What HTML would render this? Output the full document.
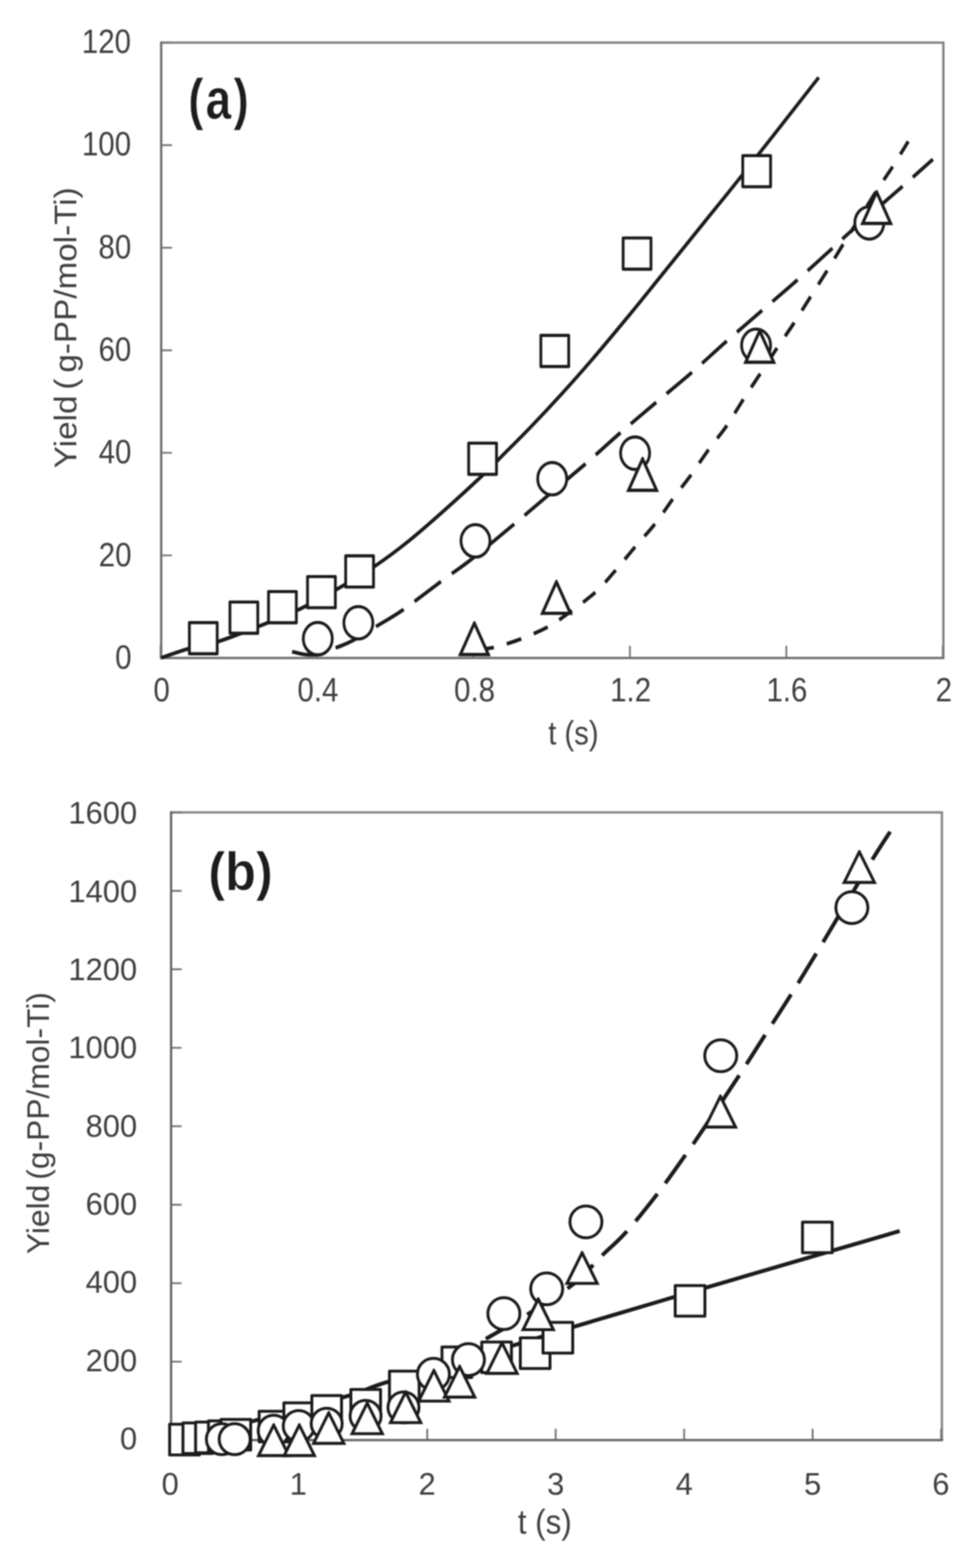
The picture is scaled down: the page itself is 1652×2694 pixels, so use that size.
<!DOCTYPE html>
<html lang="en">
<head>
<meta charset="utf-8">
<title>Yield versus time</title>
<style>
html,body{margin:0;padding:0;background:#fff;}
body{width:1652px;height:2694px;overflow:hidden;}
svg{display:block;font-family:"Liberation Sans",sans-serif;filter:blur(1px);}
</style>
</head>
<body>
<svg width="1652" height="2694" viewBox="0 0 1652 2694">
<rect width="1652" height="2694" fill="#fff"/>
<g id="panel-a">
<path d="M276.8 73.2H1620V1130.5" fill="none" stroke="#828282" stroke-width="4"/>
<path d="M276.8 1130.5h18.5M276.8 954.28h18.5M276.8 778.07h18.5M276.8 601.85h18.5M276.8 425.63h18.5M276.8 249.42h18.5M276.8 73.2h18.5M275.8 1130.5v-21M544.44 1130.5v-21M813.08 1130.5v-21M1081.72 1130.5v-21M1350.36 1130.5v-21M1619 1130.5v-21" fill="none" stroke="#787878" stroke-width="3.1"/>
<path d="M276.8 71.2V1130.5H1622" fill="none" stroke="#6e6e6e" stroke-width="4" stroke-linejoin="miter"/>
<text transform="matrix(0.8800 0 0 1 197.81 1149.2)" font-size="57.5" fill="#3f3f3f">0</text>
<text transform="matrix(0.8800 0 0 1 169.56 972.78)" font-size="57.5" fill="#3f3f3f">20</text>
<text transform="matrix(0.8800 0 0 1 169.4 796.37)" font-size="57.5" fill="#3f3f3f">40</text>
<text transform="matrix(0.8800 0 0 1 169.23 619.95)" font-size="57.5" fill="#3f3f3f">60</text>
<text transform="matrix(0.8800 0 0 1 169.06 443.53)" font-size="57.5" fill="#3f3f3f">80</text>
<text transform="matrix(0.8800 0 0 1 140.69 267.12)" font-size="57.5" fill="#3f3f3f">100</text>
<text transform="matrix(0.8800 0 0 1 140.52 90.7)" font-size="57.5" fill="#3f3f3f">120</text>
<text transform="matrix(0.8800 0 0 1 263.5 1205)" font-size="57.5" fill="#3f3f3f">0</text>
<text transform="matrix(0.8800 0 0 1 510.76 1205)" font-size="57.5" fill="#3f3f3f">0.4</text>
<text transform="matrix(0.8800 0 0 1 779.78 1205)" font-size="57.5" fill="#3f3f3f">0.8</text>
<text transform="matrix(0.8800 0 0 1 1047.72 1205)" font-size="57.5" fill="#3f3f3f">1.2</text>
<text transform="matrix(0.8800 0 0 1 1316.17 1205)" font-size="57.5" fill="#3f3f3f">1.6</text>
<text transform="matrix(0.8800 0 0 1 1606.76 1205)" font-size="57.5" fill="#3f3f3f">2</text>
<text transform="matrix(0.8835 0 0 1 941.45 1279.21)" font-size="56.84" fill="#3f3f3f">t (s)</text>
<text transform="matrix(0 -1.0570 1 0 130.6 804.49)" font-size="54.07" word-spacing="-5.41" fill="#3f3f3f">Yield ( g-PP/mol-Ti)</text>
<text transform="matrix(0.8019 0 0 1 323.37 203.66)" font-size="98.02" font-weight="bold" letter-spacing="4.78" fill="#1d1b1b" stroke="#fff" stroke-width="0.9">(a)</text>
<g id="series-a" transform="matrix(1 0 0 1.12 0 0)">
<path d="M276.8 1009.2C284.58 1006.87 307.27 999.4 323.5 995.27C339.73 991.13 354.07 990.13 374.2 984.37C394.33 978.62 421.58 968.75 444.3 960.71C467.02 952.68 488.27 945.57 510.5 936.16C532.73 926.76 555.58 915.52 577.7 904.29C599.82 893.05 622.82 880.92 643.2 868.75C663.58 856.58 680.53 845.16 700 831.25C719.47 817.34 738.17 802.6 760 785.27C781.83 767.93 814.33 741.22 831 727.23C847.67 713.24 846.5 713.47 860 701.34C873.5 689.21 894.53 670.68 912 654.46C929.47 638.24 947.43 621.07 964.8 604.02C982.17 586.96 996.7 572.46 1016.2 552.14C1035.7 531.83 1062.17 503.41 1081.8 482.14C1101.43 460.88 1112.48 448.36 1134 424.55C1155.52 400.74 1187.6 365.13 1210.9 339.29C1234.2 313.44 1241.28 306.22 1273.8 269.46C1306.32 232.71 1383.97 143.87 1406 118.75" fill="none" stroke="#1c1a1a" stroke-width="5.7" stroke-linecap="butt" stroke-linejoin="round"/>
<path d="M501.6 999.64C505.45 1000.39 516.97 1003.53 524.7 1004.11C532.43 1004.69 539.28 1004.85 548 1003.12C556.72 1001.4 567.67 997.04 577 993.75C586.33 990.46 592.3 988.96 604 983.39C615.7 977.83 632.28 968.48 647.2 960.36C662.12 952.23 674.7 946.34 693.5 934.64C712.3 922.95 740.65 902.98 760 890.18C779.35 877.38 788.92 872.35 809.6 857.86C830.28 843.36 862.58 819.23 884.1 803.21C905.62 787.2 918.3 777.2 938.7 761.79C959.1 746.37 985.28 727.11 1006.5 710.71C1027.72 694.32 1045.87 679.02 1066 663.39C1086.13 647.77 1106.88 632.37 1127.3 616.96C1147.72 601.56 1168.38 586.61 1188.5 570.98C1208.62 555.36 1227.88 539.06 1248 523.21C1268.12 507.37 1288.8 491.67 1309.2 475.89C1329.6 460.12 1350.55 444.26 1370.4 428.57C1390.25 412.89 1412.3 394.76 1428.3 381.79C1444.3 368.81 1446.28 366.58 1466.4 350.71C1486.52 334.85 1526.4 304.33 1549 286.61C1571.6 268.88 1593.17 251.41 1602 244.37" fill="none" stroke="#1c1a1a" stroke-width="5.7" stroke-linecap="butt" stroke-linejoin="round" stroke-dasharray="54.5 22.3" stroke-dashoffset="0.08"/>
<path d="M815 996.43C820.72 995.83 835.85 995.62 849.3 992.86C862.75 990.09 880.53 984.99 895.7 979.82C910.87 974.66 927.62 967.93 940.3 961.87C952.98 955.82 958.02 952.46 971.8 943.48C985.58 934.51 1008.67 919.6 1023 908.04C1037.33 896.47 1046.48 885.67 1057.8 874.11C1069.12 862.54 1079.58 850.58 1090.9 838.66C1102.22 826.74 1114.67 815.15 1125.7 802.59C1136.73 790.03 1146.93 775.65 1157.1 763.3C1167.27 750.95 1176.8 740.68 1186.7 728.48C1196.6 716.28 1206.28 702.65 1216.5 690.09C1226.72 677.53 1238.07 665.94 1248 653.12C1257.93 640.31 1266.45 626.61 1276.1 613.21C1285.75 599.82 1296.13 586.06 1305.9 572.77C1315.67 559.48 1325.05 546.43 1334.7 533.48C1344.35 520.54 1354.27 508.14 1363.8 495.09C1373.33 482.04 1382.53 468.39 1391.9 455.18C1401.27 441.96 1410.62 429.27 1420 415.8C1429.38 402.34 1434.4 394.33 1448.2 374.38C1462 354.42 1488.75 315.76 1502.8 296.07C1516.85 276.38 1523.02 269.43 1532.5 256.25C1541.98 243.07 1555.17 223.51 1559.7 216.96" fill="none" stroke="#1c1a1a" stroke-width="5.7" stroke-linecap="butt" stroke-linejoin="round" stroke-dasharray="26 22.86" stroke-dashoffset="41.62"/>
<rect x="325.2" y="955.12" width="47.8" height="47.8" fill="#fff" stroke="#1c1a1a" stroke-width="4.8" stroke-linejoin="round"/>
<rect x="394.9" y="923.6" width="47.8" height="47.8" fill="#fff" stroke="#1c1a1a" stroke-width="4.8" stroke-linejoin="round"/>
<rect x="461.1" y="907.53" width="47.8" height="47.8" fill="#fff" stroke="#1c1a1a" stroke-width="4.8" stroke-linejoin="round"/>
<rect x="528.1" y="884.49" width="47.8" height="47.8" fill="#fff" stroke="#1c1a1a" stroke-width="4.8" stroke-linejoin="round"/>
<rect x="593.6" y="852.71" width="47.8" height="47.8" fill="#fff" stroke="#1c1a1a" stroke-width="4.8" stroke-linejoin="round"/>
<rect x="804.8" y="679.85" width="47.8" height="47.8" fill="#fff" stroke="#1c1a1a" stroke-width="4.8" stroke-linejoin="round"/>
<rect x="928.8" y="514.49" width="47.8" height="47.8" fill="#fff" stroke="#1c1a1a" stroke-width="4.8" stroke-linejoin="round"/>
<rect x="1070.1" y="365.12" width="47.8" height="47.8" fill="#fff" stroke="#1c1a1a" stroke-width="4.8" stroke-linejoin="round"/>
<rect x="1275.5" y="238.69" width="47.8" height="47.8" fill="#fff" stroke="#1c1a1a" stroke-width="4.8" stroke-linejoin="round"/>
<ellipse cx="545.7" cy="979.73" rx="24.9" ry="24.9" fill="#fff" stroke="#1c1a1a" stroke-width="4.8"/>
<ellipse cx="615.4" cy="955.36" rx="24.9" ry="24.9" fill="#fff" stroke="#1c1a1a" stroke-width="4.8"/>
<ellipse cx="816.5" cy="829.73" rx="24.9" ry="24.9" fill="#fff" stroke="#1c1a1a" stroke-width="4.8"/>
<ellipse cx="948.3" cy="734.37" rx="24.9" ry="24.9" fill="#fff" stroke="#1c1a1a" stroke-width="4.8"/>
<ellipse cx="1090.6" cy="695.18" rx="24.9" ry="24.9" fill="#fff" stroke="#1c1a1a" stroke-width="4.8"/>
<ellipse cx="1298.4" cy="529.73" rx="24.9" ry="24.9" fill="#fff" stroke="#1c1a1a" stroke-width="4.8"/>
<ellipse cx="1492.8" cy="341.96" rx="24.9" ry="24.9" fill="#fff" stroke="#1c1a1a" stroke-width="4.8"/>
<path d="M814.6 955.94L838.7 1004.14L790.5 1004.14Z" fill="#fff"/>
<path d="M813.3 952.84L815.9 952.84L842.83 1006.69L786.37 1006.69ZM814.6 961.65L794.63 1001.59L834.57 1001.59Z" fill="#1c1a1a" fill-rule="evenodd"/>
<path d="M955.5 892.64L979.6 940.84L931.4 940.84Z" fill="#fff"/>
<path d="M954.2 889.54L956.8 889.54L983.73 943.39L927.27 943.39ZM955.5 898.34L935.53 938.29L975.47 938.29Z" fill="#1c1a1a" fill-rule="evenodd"/>
<path d="M1103.5 703.94L1127.6 752.14L1079.4 752.14Z" fill="#fff"/>
<path d="M1102.2 700.83L1104.8 700.83L1131.73 754.69L1075.27 754.69ZM1103.5 709.64L1083.53 749.59L1123.47 749.59Z" fill="#1c1a1a" fill-rule="evenodd"/>
<path d="M1304.6 507.46L1328.7 555.66L1280.5 555.66Z" fill="#fff"/>
<path d="M1303.3 504.36L1305.9 504.36L1332.83 558.21L1276.37 558.21ZM1304.6 513.16L1284.63 553.11L1324.57 553.11Z" fill="#1c1a1a" fill-rule="evenodd"/>
<path d="M1505.4 294.52L1529.5 342.72L1481.3 342.72Z" fill="#fff"/>
<path d="M1504.1 291.41L1506.7 291.41L1533.63 345.27L1477.17 345.27ZM1505.4 300.22L1485.43 340.17L1525.37 340.17Z" fill="#1c1a1a" fill-rule="evenodd"/>
</g>
</g>
<g id="panel-b">
<path d="M293.8 1395.8H1617.5V2474.3" fill="none" stroke="#868686" stroke-width="4"/>
<path d="M293.8 2474.3h18M293.8 2339.49h18M293.8 2204.68h18M293.8 2069.86h18M293.8 1935.05h18M293.8 1800.24h18M293.8 1665.42h18M293.8 1530.61h18M293.8 1395.8h18M292.4 2474.3v-19.5M513.02 2474.3v-19.5M733.63 2474.3v-19.5M954.25 2474.3v-19.5M1174.87 2474.3v-19.5M1395.48 2474.3v-19.5M1616.1 2474.3v-19.5" fill="none" stroke="#747474" stroke-width="3.1"/>
<path d="M293.8 1393.8V2474.3H1619.5" fill="none" stroke="#666666" stroke-width="4" stroke-linejoin="miter"/>
<text transform="matrix(1.0000 0 0 1 205.97 2489.9)" font-size="53" fill="#3f3f3f">0</text>
<text transform="matrix(1.0000 0 0 1 147.01 2355.58)" font-size="53" fill="#3f3f3f">200</text>
<text transform="matrix(1.0000 0 0 1 147.01 2221.25)" font-size="53" fill="#3f3f3f">400</text>
<text transform="matrix(1.0000 0 0 1 147.01 2086.93)" font-size="53" fill="#3f3f3f">600</text>
<text transform="matrix(1.0000 0 0 1 147.01 1952.6)" font-size="53" fill="#3f3f3f">800</text>
<text transform="matrix(1.0000 0 0 1 117.59 1818.28)" font-size="53" fill="#3f3f3f">1000</text>
<text transform="matrix(1.0000 0 0 1 117.59 1683.95)" font-size="53" fill="#3f3f3f">1200</text>
<text transform="matrix(1.0000 0 0 1 117.59 1549.62)" font-size="53" fill="#3f3f3f">1400</text>
<text transform="matrix(1.0000 0 0 1 117.59 1415.3)" font-size="53" fill="#3f3f3f">1600</text>
<text transform="matrix(1.0000 0 0 1 277.53 2568)" font-size="53" fill="#3f3f3f">0</text>
<text transform="matrix(1.0000 0 0 1 497.48 2568)" font-size="53" fill="#3f3f3f">1</text>
<text transform="matrix(1.0000 0 0 1 718.83 2568)" font-size="53" fill="#3f3f3f">2</text>
<text transform="matrix(1.0000 0 0 1 939.58 2568)" font-size="53" fill="#3f3f3f">3</text>
<text transform="matrix(1.0000 0 0 1 1160.19 2568)" font-size="53" fill="#3f3f3f">4</text>
<text transform="matrix(1.0000 0 0 1 1380.68 2568)" font-size="53" fill="#3f3f3f">5</text>
<text transform="matrix(1.0000 0 0 1 1601.09 2568)" font-size="53" fill="#3f3f3f">6</text>
<text transform="matrix(0.9165 0 0 1 889.19 2634.81)" font-size="58.77" fill="#3f3f3f">t (s)</text>
<text transform="matrix(0 -1.0151 1 0 83.8 2154.83)" font-size="53.78" word-spacing="-6.45" fill="#3f3f3f">Yield (g-PP/mol-Ti)</text>
<text transform="matrix(0.9357 0 0 1 357.66 1528.75)" font-size="92.76" font-weight="bold" fill="#1d1b1b" stroke="#fff" stroke-width="0.9">(b)</text>
<g id="series-b" transform="matrix(1 0 0 1 0 0)">
<path d="M293.8 2473C301.5 2471.83 316.97 2471.13 340 2466C363.03 2460.87 402 2450.2 432 2442.2C462 2434.2 491.75 2425.5 520 2418C548.25 2410.5 578.17 2404.2 601.5 2397.2C624.83 2390.2 633.58 2384.2 660 2376C686.42 2367.8 726 2357.83 760 2348C794 2338.17 826.1 2328.5 864 2317C901.9 2305.5 943.07 2292.4 987.4 2279C1031.73 2265.6 1087.9 2249.07 1130 2236.6C1172.1 2224.13 1170.83 2224.47 1240 2204.2C1309.17 2183.93 1494.17 2129.87 1545 2115" fill="none" stroke="#1c1a1a" stroke-width="6.7" stroke-linecap="butt" stroke-linejoin="round"/>
<path d="M775 2333C784.88 2327.55 813.47 2312.13 834.3 2300.3C855.13 2288.47 874.93 2277.68 900 2262C925.07 2246.32 962.42 2223.67 984.7 2206.2C1006.98 2188.73 1018.7 2171.98 1033.7 2157.2C1048.7 2142.42 1059.03 2134.92 1074.7 2117.5C1090.37 2100.08 1110.72 2074.77 1127.7 2052.7C1144.68 2030.63 1162.47 2005.05 1176.6 1985.1C1190.73 1965.15 1197.25 1955.58 1212.5 1933C1227.75 1910.42 1251.33 1875.2 1268.1 1849.6C1284.87 1824 1298.1 1802.78 1313.1 1779.4C1328.1 1756.02 1343.58 1732.4 1358.1 1709.3C1372.62 1686.2 1387 1662.6 1400.2 1640.8C1413.4 1619 1420.97 1605.87 1437.3 1578.5C1453.63 1551.13 1482.98 1501.52 1498.2 1476.6C1513.42 1451.68 1523.53 1436.93 1528.6 1429" fill="none" stroke="#1c1a1a" stroke-width="6.7" stroke-linecap="butt" stroke-linejoin="round" stroke-dasharray="59.6 22.9" stroke-dashoffset="14.84"/>
<rect x="291.3" y="2446.95" width="51" height="52.7" fill="#fff" stroke="#1c1a1a" stroke-width="5" stroke-linejoin="round"/>
<rect x="314.2" y="2444.65" width="51" height="52.7" fill="#fff" stroke="#1c1a1a" stroke-width="5" stroke-linejoin="round"/>
<rect x="335.9" y="2443.25" width="51" height="52.7" fill="#fff" stroke="#1c1a1a" stroke-width="5" stroke-linejoin="round"/>
<rect x="358" y="2441.35" width="51" height="52.7" fill="#fff" stroke="#1c1a1a" stroke-width="5" stroke-linejoin="round"/>
<rect x="379.5" y="2438.65" width="51" height="52.7" fill="#fff" stroke="#1c1a1a" stroke-width="5" stroke-linejoin="round"/>
<rect x="445" y="2424.65" width="51" height="52.7" fill="#fff" stroke="#1c1a1a" stroke-width="5" stroke-linejoin="round"/>
<rect x="487.5" y="2410.15" width="51" height="52.7" fill="#fff" stroke="#1c1a1a" stroke-width="5" stroke-linejoin="round"/>
<rect x="535.5" y="2397.65" width="51" height="52.7" fill="#fff" stroke="#1c1a1a" stroke-width="5" stroke-linejoin="round"/>
<rect x="602.5" y="2387.25" width="51" height="52.7" fill="#fff" stroke="#1c1a1a" stroke-width="5" stroke-linejoin="round"/>
<rect x="668.8" y="2355.65" width="51" height="52.7" fill="#fff" stroke="#1c1a1a" stroke-width="5" stroke-linejoin="round"/>
<rect x="759" y="2314.15" width="51" height="52.7" fill="#fff" stroke="#1c1a1a" stroke-width="5" stroke-linejoin="round"/>
<rect x="827.3" y="2305.65" width="51" height="52.7" fill="#fff" stroke="#1c1a1a" stroke-width="5" stroke-linejoin="round"/>
<rect x="893.5" y="2298.45" width="51" height="52.7" fill="#fff" stroke="#1c1a1a" stroke-width="5" stroke-linejoin="round"/>
<rect x="932.5" y="2271.95" width="51" height="52.7" fill="#fff" stroke="#1c1a1a" stroke-width="5" stroke-linejoin="round"/>
<rect x="1159.5" y="2208.65" width="51" height="52.7" fill="#fff" stroke="#1c1a1a" stroke-width="5" stroke-linejoin="round"/>
<rect x="1378.1" y="2099.65" width="51" height="52.7" fill="#fff" stroke="#1c1a1a" stroke-width="5" stroke-linejoin="round"/>
<ellipse cx="381" cy="2472.7" rx="26.6" ry="26.6" fill="#fff" stroke="#1c1a1a" stroke-width="5"/>
<ellipse cx="403" cy="2472.7" rx="26.6" ry="26.6" fill="#fff" stroke="#1c1a1a" stroke-width="5"/>
<ellipse cx="470" cy="2458" rx="26.6" ry="26.6" fill="#fff" stroke="#1c1a1a" stroke-width="5"/>
<ellipse cx="513" cy="2450" rx="26.6" ry="26.6" fill="#fff" stroke="#1c1a1a" stroke-width="5"/>
<ellipse cx="561" cy="2446" rx="26.6" ry="26.6" fill="#fff" stroke="#1c1a1a" stroke-width="5"/>
<ellipse cx="627.8" cy="2432.7" rx="26.6" ry="26.6" fill="#fff" stroke="#1c1a1a" stroke-width="5"/>
<ellipse cx="692.9" cy="2418.1" rx="26.6" ry="26.6" fill="#fff" stroke="#1c1a1a" stroke-width="5"/>
<ellipse cx="744.3" cy="2361.2" rx="27.5" ry="27.4" fill="#fff" stroke="#1c1a1a" stroke-width="5"/>
<ellipse cx="804.4" cy="2336" rx="27.5" ry="27.4" fill="#fff" stroke="#1c1a1a" stroke-width="5"/>
<ellipse cx="865.3" cy="2256.9" rx="27.5" ry="27.4" fill="#fff" stroke="#1c1a1a" stroke-width="5"/>
<ellipse cx="938.8" cy="2214.3" rx="27.5" ry="27.4" fill="#fff" stroke="#1c1a1a" stroke-width="5"/>
<ellipse cx="1006.2" cy="2099.3" rx="27.5" ry="27.4" fill="#fff" stroke="#1c1a1a" stroke-width="5"/>
<ellipse cx="1237.7" cy="1813.8" rx="27.5" ry="27.4" fill="#fff" stroke="#1c1a1a" stroke-width="5"/>
<ellipse cx="1462.9" cy="1559.4" rx="27.5" ry="27.4" fill="#fff" stroke="#1c1a1a" stroke-width="5"/>
<path d="M470 2448.3L496 2500.9L444 2500.9Z" fill="#fff"/>
<path d="M468.71 2445.15L471.29 2445.15L500.1 2503.45L439.9 2503.45ZM470 2454.05L448.1 2498.35L491.9 2498.35Z" fill="#1c1a1a" fill-rule="evenodd"/>
<path d="M514 2448.3L540 2500.9L488 2500.9Z" fill="#fff"/>
<path d="M512.71 2445.15L515.29 2445.15L544.1 2503.45L483.9 2503.45ZM514 2454.05L492.1 2498.35L535.9 2498.35Z" fill="#1c1a1a" fill-rule="evenodd"/>
<path d="M564.5 2427.3L590.5 2479.9L538.5 2479.9Z" fill="#fff"/>
<path d="M563.21 2424.15L565.79 2424.15L594.6 2482.45L534.4 2482.45ZM564.5 2433.05L542.6 2477.35L586.4 2477.35Z" fill="#1c1a1a" fill-rule="evenodd"/>
<path d="M630.6 2410.6L656.6 2463.2L604.6 2463.2Z" fill="#fff"/>
<path d="M629.31 2407.45L631.89 2407.45L660.7 2465.75L600.5 2465.75ZM630.6 2416.35L608.7 2460.65L652.5 2460.65Z" fill="#1c1a1a" fill-rule="evenodd"/>
<path d="M696.6 2391.7L722.6 2444.3L670.6 2444.3Z" fill="#fff"/>
<path d="M695.31 2388.55L697.89 2388.55L726.7 2446.85L666.5 2446.85ZM696.6 2397.45L674.7 2441.75L718.5 2441.75Z" fill="#1c1a1a" fill-rule="evenodd"/>
<path d="M745.1 2354.6L771.1 2407.2L719.1 2407.2Z" fill="#fff"/>
<path d="M743.81 2351.45L746.39 2351.45L775.2 2409.75L715 2409.75ZM745.1 2360.35L723.2 2404.65L767 2404.65Z" fill="#1c1a1a" fill-rule="evenodd"/>
<path d="M789.3 2347.75L815.3 2400.35L763.3 2400.35Z" fill="#fff"/>
<path d="M788.01 2344.6L790.59 2344.6L819.4 2402.9L759.2 2402.9ZM789.3 2353.5L767.4 2397.8L811.2 2397.8Z" fill="#1c1a1a" fill-rule="evenodd"/>
<path d="M862.1 2307.05L888.1 2359.65L836.1 2359.65Z" fill="#fff"/>
<path d="M860.81 2303.9L863.39 2303.9L892.2 2362.2L832 2362.2ZM862.1 2312.8L840.2 2357.1L884 2357.1Z" fill="#1c1a1a" fill-rule="evenodd"/>
<path d="M924.3 2231.95L950.3 2284.55L898.3 2284.55Z" fill="#fff"/>
<path d="M923.01 2228.8L925.59 2228.8L954.4 2287.1L894.2 2287.1ZM924.3 2237.7L902.4 2282L946.2 2282Z" fill="#1c1a1a" fill-rule="evenodd"/>
<path d="M999.6 2152.45L1025.6 2205.05L973.6 2205.05Z" fill="#fff"/>
<path d="M998.31 2149.3L1000.89 2149.3L1029.7 2207.6L969.5 2207.6ZM999.6 2158.2L977.7 2202.5L1021.5 2202.5Z" fill="#1c1a1a" fill-rule="evenodd"/>
<path d="M1237.1 1883.75L1263.1 1936.35L1211.1 1936.35Z" fill="#fff"/>
<path d="M1235.81 1880.6L1238.39 1880.6L1267.2 1938.9L1207 1938.9ZM1237.1 1889.5L1215.2 1933.8L1259 1933.8Z" fill="#1c1a1a" fill-rule="evenodd"/>
<path d="M1475.7 1463.55L1501.7 1516.15L1449.7 1516.15Z" fill="#fff"/>
<path d="M1474.41 1460.4L1476.99 1460.4L1505.8 1518.7L1445.6 1518.7ZM1475.7 1469.3L1453.8 1513.6L1497.6 1513.6Z" fill="#1c1a1a" fill-rule="evenodd"/>
</g>
</g>
</svg>
</body>
</html>
